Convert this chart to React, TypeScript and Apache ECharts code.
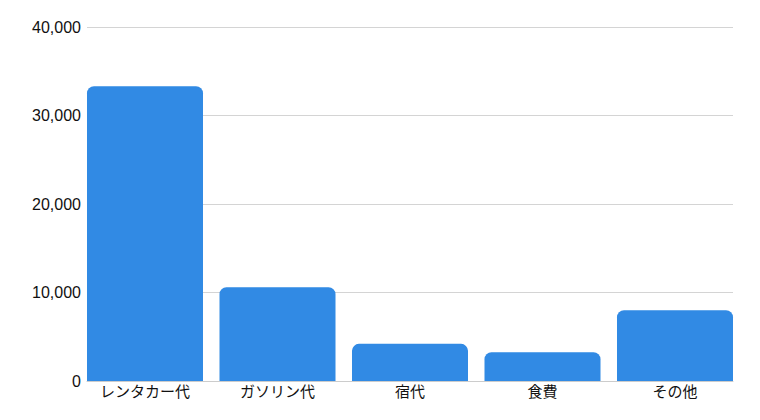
import * as echarts from 'echarts';
import { useEffect, useRef } from 'react';

const categories = ['レンタカー代', 'ガソリン代', '宿代', '食費', 'その他'];
const costs = [33300, 10600, 4200, 3250, 8000];
const yTicks = { min: 0, max: 40000, interval: 10000 };

const App = () => {
  const chartRef = useRef(null);

  useEffect(() => {
    const chart = echarts.init(chartRef.current, null, { renderer: 'svg' });

    // half of the gap between bars; the outer bars sit flush with the plot edges
    const half = 8.25;

    const option = {
      animation: false,
      // body has an 8px margin, so the div starts at (8, 8)
      grid: [
        { left: 79, right: 19, top: 19, bottom: 31 },
        { left: 79 - half, right: 19 - half, top: 19, bottom: 31 },
      ],
      xAxis: [
        {
          gridIndex: 0,
          type: 'value',
          min: 0,
          max: 1,
          axisLine: { show: true, lineStyle: { color: '#cccccc' } },
          axisTick: { show: false },
          axisLabel: { show: false },
          splitLine: { show: false },
        },
        {
          gridIndex: 1,
          type: 'category',
          data: categories,
          axisLine: { show: false },
          axisTick: { show: false },
          axisLabel: {
            color: '#111',
            fontSize: 15,
            margin: 2,
            fontFamily: 'Noto Sans CJK JP',
          },
        },
      ],
      yAxis: [
        {
          gridIndex: 0,
          type: 'value',
          ...yTicks,
          axisLine: { show: false },
          axisTick: { show: false },
          splitLine: { lineStyle: { color: '#d4d4d4' } },
          axisLabel: {
            color: '#111',
            fontSize: 16,
            margin: 6,
            fontFamily: 'Liberation Sans',
            formatter: (v: number) => v.toLocaleString('en-US'),
          },
        },
        {
          gridIndex: 1,
          type: 'value',
          ...yTicks,
          show: false,
        },
      ],
      series: [
        {
          type: 'bar',
          xAxisIndex: 1,
          yAxisIndex: 1,
          data: costs,
          barCategoryGap: '12.45%',
          itemStyle: { color: '#318ae4', borderRadius: [7, 7, 0, 0] },
        },
      ],
    };

    chart.setOption(option);
    return () => chart.dispose();
  }, []);

  return <div ref={chartRef} style={{ width: '744px', height: '404px' }} />;
};

export default App;
